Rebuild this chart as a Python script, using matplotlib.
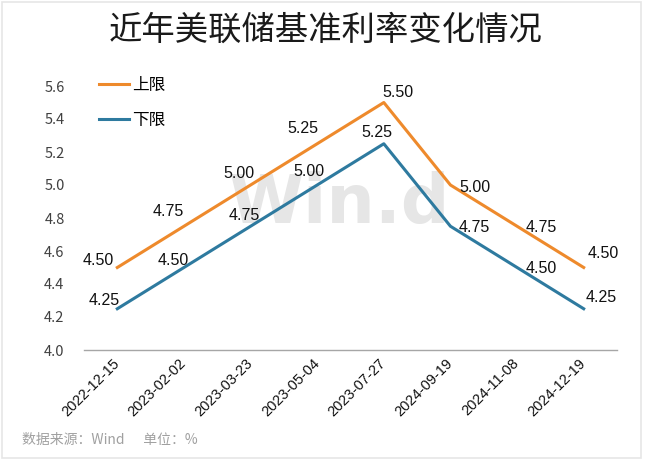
import matplotlib
matplotlib.use("Agg")
import matplotlib.pyplot as plt
from matplotlib.patches import Rectangle

plt.rcParams["font.family"] = ["Noto Sans CJK SC", "DejaVu Sans"]

# data
dates = ["2022-12-15", "2023-02-02", "2023-03-23", "2023-05-04",
         "2023-07-27", "2024-09-19", "2024-11-08", "2024-12-19"]
upper = [4.50, 4.75, 5.00, 5.25, 5.50, 5.00, 4.75, 4.50]
lower = [4.25, 4.50, 4.75, 5.00, 5.25, 4.75, 4.50, 4.25]
yticks = [4.0, 4.2, 4.4, 4.6, 4.8, 5.0, 5.2, 5.4, 5.6]

# label offsets in pixels (dx, dy), y up
upper_off = [(-19, 7), (-16, 15), (-12, 12), (-14, 15), (14, 10), (24, -2), (24, -1), (20, 14)]
lower_off = [(-13, 8), (-11, 7), (-6, 11), (-8, 13), (-7, 11), (24, -1), (24, -1), (18, 11)]

c_up = "#EE8A2C"
c_lo = "#2E7A9F"

fig = plt.figure(figsize=(6.5, 4.72), dpi=100)
fig.patch.set_facecolor("white")
ax = fig.add_axes([84 / 650, 1 - 350 / 472, 533 / 650, 264 / 472])

x = range(len(dates))
ax.plot(x, upper, color=c_up, lw=2.2, label="上限", zorder=3)
ax.plot(x, lower, color=c_lo, lw=2.2, label="下限", zorder=3)

for i, v in enumerate(upper):
    ax.annotate(f"{v:.2f}", (i, v), xytext=upper_off[i], textcoords="offset pixels",
                ha="center", va="center", fontsize=11.5,
                family=["Liberation Sans", "DejaVu Sans"], color="#111111", zorder=4)
for i, v in enumerate(lower):
    ax.annotate(f"{v:.2f}", (i, v), xytext=lower_off[i], textcoords="offset pixels",
                ha="center", va="center", fontsize=11.5,
                family=["Liberation Sans", "DejaVu Sans"], color="#111111", zorder=4)

ax.set_xlim(-0.5, len(dates) - 0.5)
ax.set_ylim(4.0, 5.6)
ax.set_yticks(yticks)
ax.set_yticklabels([f"{t:.1f}" for t in yticks], fontsize=10.5, color="#404040")
ax.set_xticks(list(x))
ax.set_xticklabels(dates, rotation=45, ha="right", va="center", rotation_mode="anchor",
                   fontsize=10.5, color="#111111",
                   family=["Liberation Sans", "DejaVu Sans"])
ax.tick_params(axis="both", length=0)
ax.tick_params(axis="y", pad=14)
ax.tick_params(axis="x", pad=8)
for s in ["top", "right", "left"]:
    ax.spines[s].set_visible(False)
ax.spines["bottom"].set_color("#A6A6A6")
ax.spines["bottom"].set_linewidth(1.0)

# watermark
ax.text(3.34, 4.885, "Win.d", fontsize=49, fontweight="bold", color="#E6E6E6",
        ha="center", va="center", family=["DejaVu Sans"], zorder=1)

ax.legend(loc="upper left", bbox_to_anchor=(0.0, 1.09), frameon=False,
          fontsize=12, handlelength=1.8, handletextpad=0.2, labelspacing=1.05)

fig.text(326 / 650, 1 - 30 / 472, "近年美联储基准利率变化情况", ha="center", va="center",
         fontsize=24, color="#1a1a1a")
fig.text(22 / 650, 1 - 440 / 472, "数据来源：Wind      单位：%", ha="left", va="center",
         fontsize=10, color="#A0A0A0")

# light panel edge
fig.add_artist(Rectangle((0.003, 0.03), 0.983, 0.965, transform=fig.transFigure,
                         fill=False, edgecolor="#E6E6E6", lw=1.2))

fig.savefig("out.png", dpi=100)
